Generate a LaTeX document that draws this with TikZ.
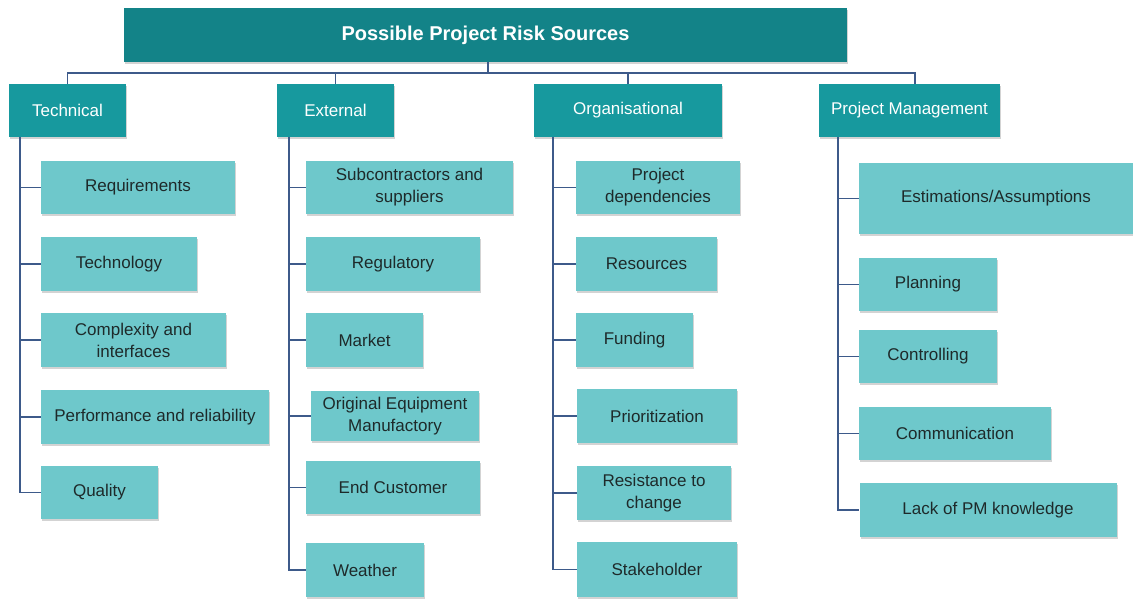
\documentclass[tikz,border=0pt]{standalone}
\usepackage{fontspec}
\setmainfont{Liberation Sans}
\usetikzlibrary{shadows}
\definecolor{topc}{HTML}{138388}
\definecolor{catc}{HTML}{17999E}
\definecolor{kidc}{HTML}{6EC8CB}
\definecolor{linec}{HTML}{3D5A8A}
\definecolor{txtc}{HTML}{1E2A2A}
\tikzset{
  boxbase/.style={inner sep=0pt, align=center, drop shadow={opacity=0.35, shadow xshift=1.2pt, shadow yshift=-2pt}},
  topbox/.style={boxbase, fill=topc, text=white, font=\fontsize{20}{22}\selectfont\bfseries},
  catbox/.style={boxbase, fill=catc, text=white, font=\fontsize{17}{22}\selectfont},
  kidbox/.style={boxbase, fill=kidc, text=txtc, font=\fontsize{17}{22}\selectfont},
  conn/.style={draw=linec, line width=1.7pt},
}
\begin{document}
\begin{tikzpicture}[x=1pt,y=-1pt]
\useasboundingbox (0,0) rectangle (1133,599);
% top
\node[topbox, minimum width=723pt, minimum height=54pt] (top) at (485.5,35) {Possible Project Risk Sources};
% categories
\node[catbox, minimum width=117pt, minimum height=53pt] (tech) at (67.5,110.5) {Technical};
\node[catbox, minimum width=117pt, minimum height=53pt] (ext) at (335.5,110.5) {External};
\node[catbox, minimum width=188pt, minimum height=53pt] (org) at (628,110.5) {Organisational};
\node[catbox, minimum width=181pt, minimum height=53pt] (pm) at (909.5,110.5) {Project Management};
% technical children
\node[kidbox, minimum width=194pt, minimum height=53pt] (req) at (138,187.5) {Requirements};
\node[kidbox, minimum width=156pt, minimum height=54pt] (tgy) at (119,264) {Technology};
\node[kidbox, minimum width=185pt, minimum height=54pt] (cpx) at (133.5,340) {Complexity and\\interfaces};
\node[kidbox, minimum width=228pt, minimum height=54pt] (prf) at (155,417) {Performance and reliability};
\node[kidbox, minimum width=117pt, minimum height=53pt] (qua) at (99.5,492.5) {Quality};
% external children
\node[kidbox, minimum width=207pt, minimum height=53pt] (sub) at (409.5,187.5) {Subcontractors and\\suppliers};
\node[kidbox, minimum width=174pt, minimum height=54pt] (reg) at (393,264) {Regulatory};
\node[kidbox, minimum width=117pt, minimum height=54pt] (mkt) at (364.5,340) {Market};
\node[kidbox, minimum width=168pt, minimum height=50pt] (oem) at (395,416) {Original Equipment\\Manufactory};
\node[kidbox, minimum width=174pt, minimum height=53pt] (enc) at (393,487.5) {End Customer};
\node[kidbox, minimum width=118pt, minimum height=54pt] (wea) at (365,570) {Weather};
% organisational children
\node[kidbox, minimum width=164pt, minimum height=53pt] (dep) at (658,187.5) {Project\\dependencies};
\node[kidbox, minimum width=141pt, minimum height=54pt] (res) at (646.5,264) {Resources};
\node[kidbox, minimum width=117pt, minimum height=54pt] (fun) at (634.5,340) {Funding};
\node[kidbox, minimum width=160pt, minimum height=54pt] (pri) at (657,416) {Prioritization};
\node[kidbox, minimum width=154pt, minimum height=54pt] (rtc) at (654,493) {Resistance to\\change};
\node[kidbox, minimum width=160pt, minimum height=55pt] (stk) at (657,569.5) {Stakeholder};
% pm children
\node[kidbox, minimum width=274pt, minimum height=71pt] (est) at (996,198.5) {Estimations/Assumptions};
\node[kidbox, minimum width=138pt, minimum height=53pt] (pln) at (928,284.5) {Planning};
\node[kidbox, minimum width=138pt, minimum height=53pt] (ctl) at (928,356.5) {Controlling};
\node[kidbox, minimum width=192pt, minimum height=53pt] (com) at (955,433.5) {Communication};
\node[kidbox, minimum width=257pt, minimum height=54pt] (lck) at (988,510) {Lack of PM knowledge};
% bus
\coordinate (bus) at (488,73);
\coordinate (pmtop) at (915,84);
\draw[conn] (top.south -| bus) -- (bus);
\draw[conn] (tech.north) |- (bus);
\draw[conn] (ext.north) |- (bus);
\draw[conn] (org.north) |- (bus);
\draw[conn] (pmtop) |- (bus);
% child connectors
\foreach \k in {req,tgy,cpx,prf,qua} \draw[conn] ([xshift=11pt]tech.south west) |- (\k.west);
\foreach \k in {sub,reg,mkt,oem,enc,wea} \draw[conn] ([xshift=12pt]ext.south west) |- (\k.west);
\foreach \k in {dep,res,fun,pri,rtc,stk} \draw[conn] ([xshift=19pt]org.south west) |- (\k.west);
\foreach \k in {est,pln,ctl,com,lck} \draw[conn] ([xshift=19pt]pm.south west) |- (\k.west);
\end{tikzpicture}
\end{document}
